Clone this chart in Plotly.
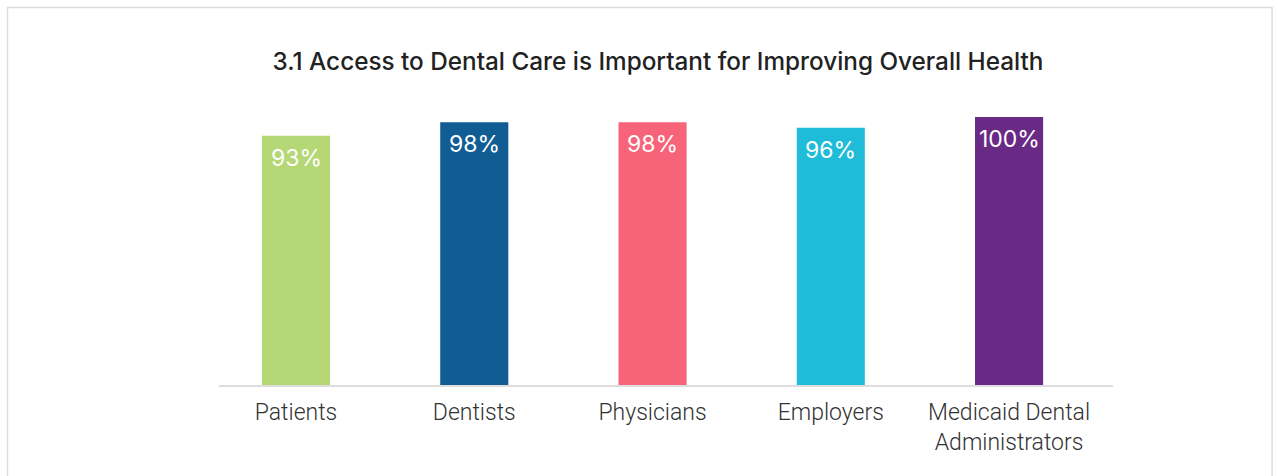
import plotly.graph_objects as go

# Survey groups and share agreeing that dental access matters for overall health
groups = ["Patients", "Dentists", "Physicians", "Employers", "Medicaid Dental<br>Administrators"]
percent_agree = [93, 98, 98, 96, 100]
bar_colors = ["#b5d776", "#115d93", "#f7647a", "#1fbcd9", "#692a85"]
title_text = "3.1 Access to Dental Care is Important for Improving Overall Health"

positions = list(range(len(groups)))

fig = go.Figure(
    go.Bar(
        x=positions,
        y=percent_agree,
        marker=dict(color=bar_colors, line=dict(width=0)),
        width=0.382,
        hoverinfo="skip",
    )
)

# value labels sitting just inside the top of each bar
for xi, v in zip(positions, percent_agree):
    fig.add_annotation(
        x=xi, y=v, xref="x", yref="y",
        text=f"{v}%", showarrow=False,
        yanchor="top", yshift=-6,
        font=dict(family="Inter", size=23, color="#ffffff"),
    )

# light frame around the whole card
fig.add_shape(
    type="rect", xref="paper", yref="paper",
    x0=-0.2366, x1=1.1779, y0=-0.6, y1=1.3246,
    line=dict(color="#dcdcdc", width=1.5), fillcolor="rgba(0,0,0,0)",
    layer="below",
)

fig.update_layout(
    width=1278, height=476,
    margin=dict(l=219, r=165, t=100, b=91),
    paper_bgcolor="#ffffff", plot_bgcolor="#ffffff",
    showlegend=False,
    title=dict(
        text=title_text,
        x=658 / 1278, xref="container", xanchor="center",
        y=1 - 61 / 476, yref="container", yanchor="middle",
        font=dict(family="Inter", size=24.3, color="#222222", weight=500),
    ),
    xaxis=dict(
        range=[-0.432, 4.583],
        tickvals=positions, ticktext=groups,
        showgrid=False, zeroline=False,
        showline=True, linecolor="#dddddd", linewidth=2,
        ticks="", ticklabelstandoff=5,
        tickfont=dict(family="Roboto", size=23, color="#333333", weight=300),
        fixedrange=True,
    ),
    yaxis=dict(
        range=[0, 106.34], visible=False, fixedrange=True,
    ),
)

fig.write_html("out.html")
